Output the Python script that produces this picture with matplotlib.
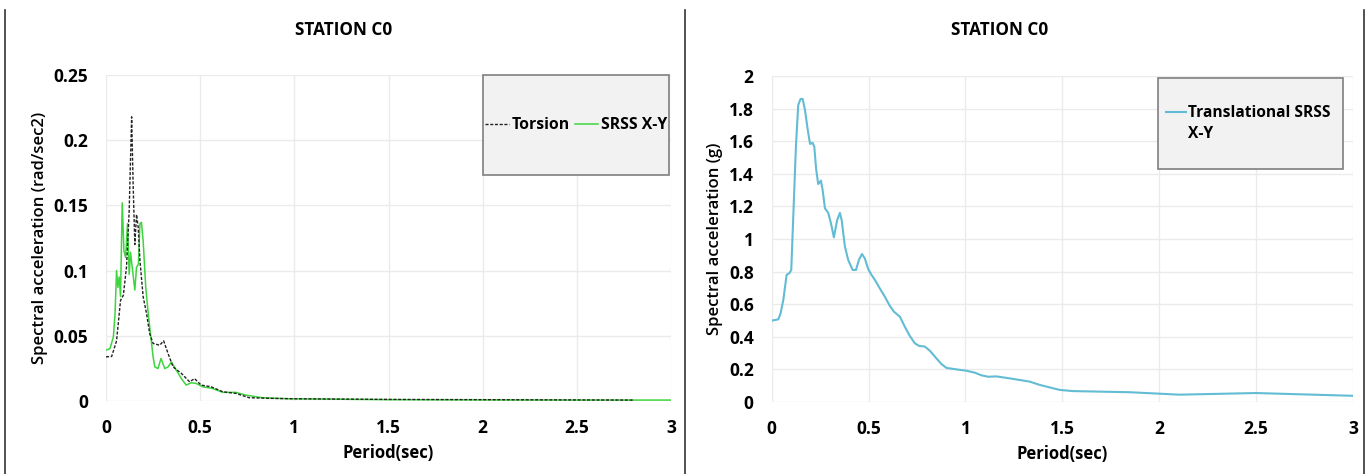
import matplotlib
matplotlib.use("Agg")
import matplotlib.pyplot as plt
from matplotlib.lines import Line2D
from matplotlib.patches import Rectangle
from matplotlib.ticker import FuncFormatter

plt.rcParams['font.family'] = ['Open Sans', 'DejaVu Sans']
plt.rcParams['font.size'] = 11
plt.rcParams['font.weight'] = 'bold'

# torsion spectrum (rad/sec2)
tor_t = [0, 0.03, 0.056, 0.077, 0.092, 0.109, 0.123, 0.136, 0.144, 0.153, 0.162, 0.171,
         0.18, 0.197, 0.215, 0.232, 0.25, 0.285, 0.306, 0.33, 0.356, 0.4, 0.444, 0.47,
         0.505, 0.558, 0.62, 0.69, 0.76, 0.88, 1.0, 1.5, 2.0, 2.5, 2.8]
tor_v = [0.0337, 0.034, 0.046, 0.077, 0.081, 0.103, 0.146, 0.218, 0.166, 0.12, 0.143, 0.133,
         0.108, 0.08, 0.067, 0.0515, 0.044, 0.0426, 0.046, 0.036, 0.026, 0.021, 0.0145, 0.017,
         0.012, 0.0107, 0.0069, 0.0056, 0.0023, 0.0018, 0.0015, 0.001, 0.0008, 0.0006, 0.0005]

# SRSS X-Y spectrum (rad/sec2)
srss_t = [0, 0.021, 0.039, 0.048, 0.056, 0.063, 0.07, 0.077, 0.086, 0.095, 0.104, 0.114,
          0.123, 0.13, 0.139, 0.153, 0.162, 0.172, 0.18, 0.188, 0.197, 0.211, 0.224, 0.236,
          0.25, 0.259, 0.276, 0.292, 0.312, 0.33, 0.347, 0.373, 0.4, 0.426, 0.452, 0.479,
          0.514, 0.567, 0.62, 0.69, 0.743, 0.83, 0.97, 1.5, 2.0, 2.5, 3.0]
srss_v = [0.0388, 0.04, 0.049, 0.067, 0.1, 0.087, 0.095, 0.08, 0.152, 0.115, 0.11, 0.136,
          0.097, 0.114, 0.1025, 0.085, 0.1025, 0.105, 0.136, 0.137, 0.123, 0.087, 0.067, 0.0515,
          0.0337, 0.026, 0.0247, 0.0324, 0.0247, 0.026, 0.0298, 0.0235, 0.017, 0.012, 0.0138, 0.0133,
          0.0107, 0.0094, 0.0064, 0.0064, 0.0043, 0.0023, 0.0015, 0.0008, 0.0006, 0.0005, 0.0005]

# translational SRSS X-Y spectrum (g)
tr_t = [0, 0.034, 0.046, 0.06, 0.077, 0.091, 0.101, 0.112, 0.125, 0.137, 0.149, 0.16,
        0.172, 0.186, 0.198, 0.211, 0.22, 0.229, 0.24, 0.254, 0.263, 0.275, 0.292, 0.306,
        0.321, 0.338, 0.352, 0.361, 0.378, 0.395, 0.418, 0.435, 0.45, 0.466, 0.481, 0.498,
        0.515, 0.533, 0.558, 0.584, 0.61, 0.631, 0.662, 0.687, 0.713, 0.739, 0.761, 0.79,
        0.816, 0.85, 0.876, 0.902, 0.954, 1.005, 1.048, 1.082, 1.117, 1.16, 1.228, 1.332,
        1.383, 1.487, 1.553, 1.847, 2.105, 2.5, 3.0]
tr_v = [0.499, 0.507, 0.544, 0.626, 0.78, 0.79, 0.81, 1.157, 1.566, 1.822, 1.859, 1.859,
        1.79, 1.67, 1.583, 1.59, 1.566, 1.433, 1.337, 1.358, 1.3, 1.188, 1.16, 1.096,
        1.01, 1.117, 1.16, 1.117, 0.953, 0.871, 0.81, 0.81, 0.871, 0.908, 0.88, 0.816,
        0.78, 0.748, 0.697, 0.646, 0.589, 0.554, 0.523, 0.462, 0.405, 0.36, 0.344, 0.34,
        0.315, 0.268, 0.233, 0.209, 0.2, 0.192, 0.18, 0.164, 0.155, 0.157, 0.145, 0.125,
        0.105, 0.074, 0.067, 0.06, 0.045, 0.055, 0.038]

x_ticks = [0, 0.5, 1, 1.5, 2, 2.5, 3]
left_yticks = [0, 0.05, 0.1, 0.15, 0.2, 0.25]
right_yticks = [0, 0.2, 0.4, 0.6, 0.8, 1, 1.2, 1.4, 1.6, 1.8, 2]

fig = plt.figure(figsize=(13.68, 4.74), dpi=100)
ax1 = fig.add_axes([0.0775, 0.1546, 0.413, 0.6868])
ax2 = fig.add_axes([0.5641, 0.1519, 0.4249, 0.6878])

fmt = FuncFormatter(lambda v, p: '%g' % round(v, 3))


def style(ax, yticks, ylabel):
    ax.set_xlim(0, 3)
    ax.set_ylim(yticks[0], yticks[-1])
    ax.set_xticks(x_ticks)
    ax.set_yticks(yticks)
    ax.xaxis.set_major_formatter(fmt)
    ax.yaxis.set_major_formatter(fmt)
    ax.grid(True, color='#ebebeb', lw=1.0)
    ax.set_axisbelow(True)
    for s in ax.spines.values():
        s.set_visible(False)
    ax.tick_params(length=0, labelsize=12.5, pad=13)
    for lab in ax.get_xticklabels() + ax.get_yticklabels():
        lab.set_fontweight('bold')
    ax.set_xlabel('Period(sec)', fontsize=12, fontweight='bold', labelpad=5)
    ax.set_ylabel(ylabel, fontsize=12, fontweight='semibold', labelpad=4)


style(ax1, left_yticks, 'Spectral acceleration (rad/sec2)')
style(ax2, right_yticks, 'Spectral acceleration (g)')

fig.text(344 / 1368, 1 - 30 / 474, 'STATION C0', ha='center', va='center', fontsize=12.3, fontweight='bold')
fig.text(1000 / 1368, 1 - 30 / 474, 'STATION C0', ha='center', va='center', fontsize=12.3, fontweight='bold')

ax1.plot(tor_t, tor_v, color='#222222', lw=1.0, ls=(0, (2.2, 1.2)), label='Torsion', zorder=3)
ax1.plot(srss_t, srss_v, color='#3ed43e', lw=1.1, label='SRSS X-Y', zorder=2)
ax2.plot(tr_t, tr_v, color='#62bcd4', lw=1.5, label='Translational SRSS', zorder=2)

# legend boxes (grey filled frames like the original)
ax1.add_patch(Rectangle((0.3531, 0.6308), 0.136, 0.211, transform=fig.transFigure,
                        facecolor='#f2f2f2', edgecolor='#7f7f7f', lw=1.2, zorder=5, clip_on=False))
ax2.add_patch(Rectangle((0.8465, 0.6435), 0.1352, 0.192, transform=fig.transFigure,
                        facecolor='#f2f2f2', edgecolor='#7f7f7f', lw=1.2, zorder=5, clip_on=False))

leg1 = ax1.legend(loc='center', bbox_to_anchor=(0.4211, 0.736), bbox_transform=fig.transFigure,
                  ncol=2, frameon=False, handlelength=1.5, handletextpad=0.15, columnspacing=0.35,
                  prop={'weight': 'bold', 'size': 11.3})
leg1.set_zorder(6)

h = ax2.get_legend_handles_labels()[0]
h.append(Line2D([], [], color='none'))
leg2 = ax2.legend(h, ['Translational SRSS', 'X-Y'], loc='center', bbox_to_anchor=(0.9125, 0.739),
                  bbox_transform=fig.transFigure, frameon=False, handlelength=1.3, handletextpad=0.15,
                  labelspacing=0.35, prop={'weight': 'bold', 'size': 11.2})
leg2.set_zorder(6)

# panel frame lines
for xf in [5 / 1368, 685 / 1368, 1364 / 1368]:
    fig.add_artist(Line2D([xf, xf], [0, 1 - 10 / 474], color='#333333', lw=1.2))

fig.savefig('out.png', dpi=100)
